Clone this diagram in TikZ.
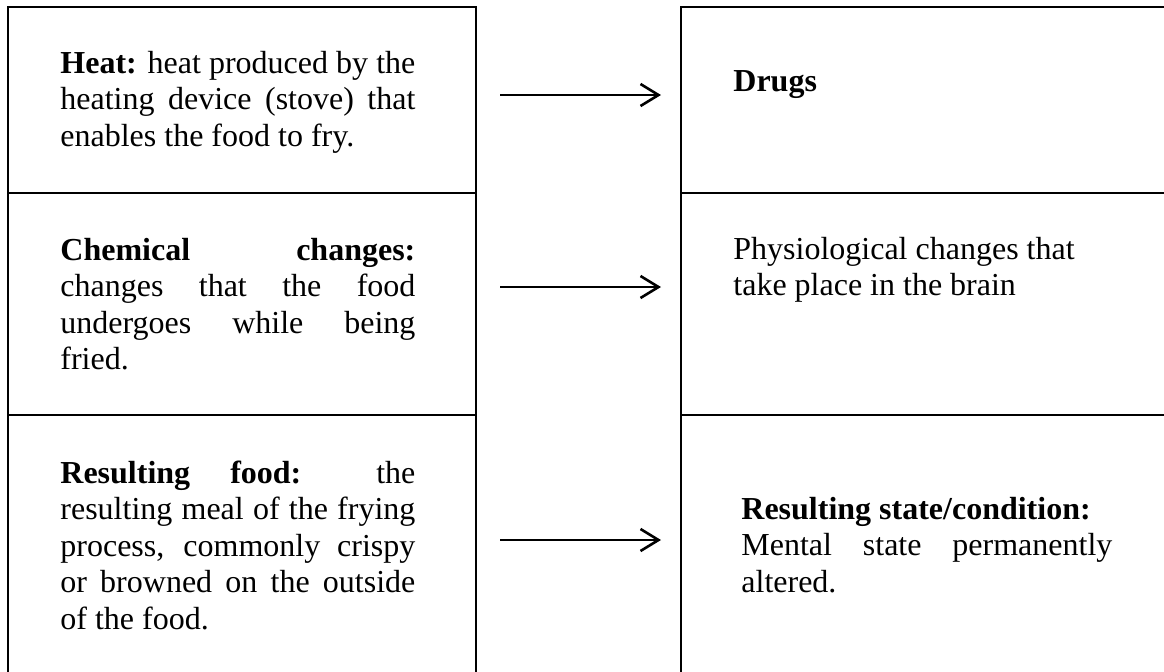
\documentclass[tikz,border=0pt]{standalone}
\usepackage{fontspec}
\setmainfont{Liberation Serif}
\usetikzlibrary{arrows.meta}
\begin{document}
\begin{tikzpicture}[x=0.5pt,y=-0.5pt,
  tbl/.style={line width=1.2pt,line cap=rect},
  cell/.style={anchor=base west,inner sep=0pt,font=\fontsize{16pt}{18.3pt}\selectfont},
  just/.style={cell,align=justify},
  conn/.style={line width=1.3pt,-{Straight Barb[length=9pt,width=11pt,line width=1.3pt]}}]
\useasboundingbox (0,0) rectangle (1164,671);
% left table
\draw[tbl] (8,680) -- (8,7) -- (476,7) -- (476,680);
\draw[tbl] (8,193) -- (476,193);
\draw[tbl] (8,415) -- (476,415);
% right table
\draw[tbl] (1170,7) -- (681,7) -- (681,680);
\draw[tbl] (681,193) -- (1170,193);
\draw[tbl] (681,415) -- (1170,415);
% left texts
\node[just,text width=177.5pt] (heat) at (60,73)
  {\textbf{Heat:} heat produced by the\linebreak heating device (stove) that\linebreak enables the food to fry.};
\node[just,text width=177.5pt] (chem) at (60,260)
  {\textbf{Chemical changes:}\linebreak changes that the food\linebreak undergoes while being\linebreak fried.};
\node[just,text width=177.5pt] (food) at (60,483)
  {\textbf{Resulting food:} the\linebreak resulting meal of the frying\linebreak process, commonly crispy\linebreak or browned on the outside\linebreak of the food.};
% right texts
\node[cell] (drugs) at (733,91) {\textbf{Drugs}};
\node[cell,align=flush left,text width=200pt] (phys) at (733,259) {Physiological changes that\\take place in the brain};
\node[just,text width=185.5pt] (state) at (741,519)
  {\textbf{Resulting state/condition:}\\Mental state permanently\linebreak altered.};
% arrows
\coordinate (a1s) at (500,95);  \coordinate (a1e) at (661,95);
\coordinate (a2s) at (500,287); \coordinate (a2e) at (661,287);
\coordinate (a3s) at (500,540); \coordinate (a3e) at (661,540);
\draw[conn] (a1s) -- (a1e);
\draw[conn] (a2s) -- (a2e);
\draw[conn] (a3s) -- (a3e);
\end{tikzpicture}
\end{document}
